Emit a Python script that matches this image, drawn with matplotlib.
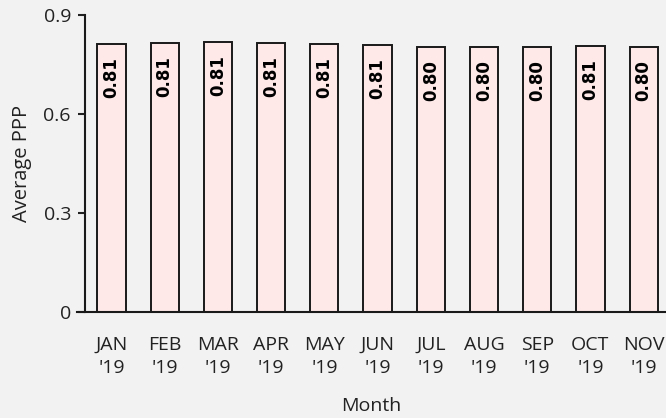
import matplotlib.pyplot as plt

# data
months = ["JAN\n'19", "FEB\n'19", "MAR\n'19", "APR\n'19", "MAY\n'19", "JUN\n'19",
          "JUL\n'19", "AUG\n'19", "SEP\n'19", "OCT\n'19", "NOV\n'19"]
avg_ppp = [0.812, 0.814, 0.817, 0.814, 0.811, 0.808, 0.804, 0.803, 0.804, 0.806, 0.804]
bar_labels = ["0.81", "0.81", "0.81", "0.81", "0.81", "0.81",
              "0.80", "0.80", "0.80", "0.81", "0.80"]
y_ticks = [0, 0.3, 0.6, 0.9]
y_tick_labels = ["0", "0.3", "0.6", "0.9"]

bg = "#F2F2F2"
bar_color = "#FFE8E8"
edge = "#1a1a1a"
txt = "#222222"

plt.rcParams['font.family'] = ['Open Sans', 'DejaVu Sans']

fig = plt.figure(figsize=(6.66, 4.18), dpi=100, facecolor=bg)
ax = fig.add_axes([77 / 666, 1 - 312 / 418, 1 - 77 / 666, (312 - 15) / 418])
ax.set_facecolor(bg)

x = range(len(months))
ax.bar(x, avg_ppp, width=0.53, color=bar_color, edgecolor=edge, linewidth=1.4, zorder=2)

# value labels, rotated, inside top of each bar
for xi, v, lab in zip(x, avg_ppp, bar_labels):
    ax.annotate(lab, xy=(xi, v), xytext=(0, -9.5), textcoords='offset points',
                ha='center', va='top', rotation=90, fontsize=12, fontweight='bold',
                family='DejaVu Sans', color='black', zorder=3)

ax.set_xlim(-0.648, 10.42)
ax.set_ylim(0, 0.9)
ax.set_yticks(y_ticks)
ax.set_yticklabels(y_tick_labels)
ax.set_xticks(list(x))
ax.set_xticklabels(months, linespacing=1.35)

for s in ['top', 'right']:
    ax.spines[s].set_visible(False)
ax.spines['left'].set_position(('data', -0.5))
for s in ['left', 'bottom']:
    ax.spines[s].set_linewidth(1.5)
    ax.spines[s].set_color(edge)

ax.tick_params(axis='y', direction='out', length=5, width=1.5, labelsize=14,
               colors=txt, pad=5)
ax.tick_params(axis='x', length=0, labelsize=14, colors=txt, pad=17)

ax.set_ylabel("Average PPP", fontsize=14.5, color=txt, labelpad=8)
ax.set_xlabel("Month", fontsize=14, color=txt, labelpad=15)

fig.savefig("out.png", dpi=100, facecolor=bg)
